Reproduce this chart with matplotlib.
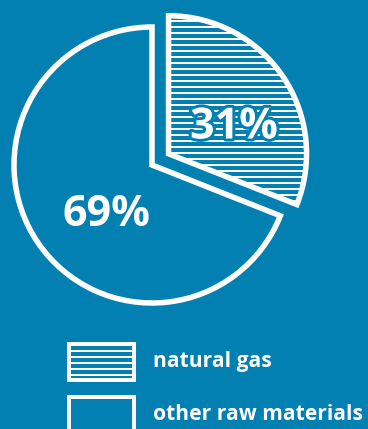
import matplotlib
matplotlib.use("Agg")
import matplotlib.pyplot as plt
import matplotlib.patheffects as pe
from matplotlib.patches import Rectangle

# share of raw materials
labels = ["natural gas", "other raw materials"]
shares = [31, 69]
hatches = ["--", ""]

bg = "#0380b2"
plt.rcParams["font.family"] = ["Open Sans", "DejaVu Sans"]
plt.rcParams["hatch.linewidth"] = 2.0

W, H, dpi = 368, 429, 72
fig = plt.figure(figsize=(W / dpi, H / dpi), dpi=dpi, facecolor=bg)
ax = fig.add_axes([0, 0, 1, 1])

# explode offset is in data units here (radius 138)
wedges, _ = ax.pie(shares, explode=[20, 0], startangle=90, counterclock=False,
                   center=(152, 264), radius=138, frame=True,
                   hatch=hatches,
                   wedgeprops=dict(facecolor=bg, edgecolor="white",
                                   linewidth=5.5, joinstyle="miter"))
ax.set_xlim(0, W)
ax.set_ylim(0, H)
ax.set_aspect("equal")
ax.axis("off")

halo = [pe.withStroke(linewidth=6, foreground=bg)]
ax.text(234, 302, f"{shares[0]}%", color="white", fontsize=43,
        fontweight="bold", ha="center", va="center", path_effects=halo)
ax.text(107, 214, f"{shares[1]}%", color="white", fontsize=43,
        fontweight="bold", ha="center", va="center")

# legend boxes
tops = [85, 32]
for lab, h, top in zip(labels, hatches, tops):
    ax.add_patch(Rectangle((69, top - 36), 65, 36, facecolor=bg,
                           edgecolor="white", linewidth=4, hatch=h))
    ax.text(153, top - 17, lab, color="white", fontsize=21,
            fontweight="bold", ha="left", va="center")

fig.savefig("out.png", dpi=dpi, facecolor=bg)
